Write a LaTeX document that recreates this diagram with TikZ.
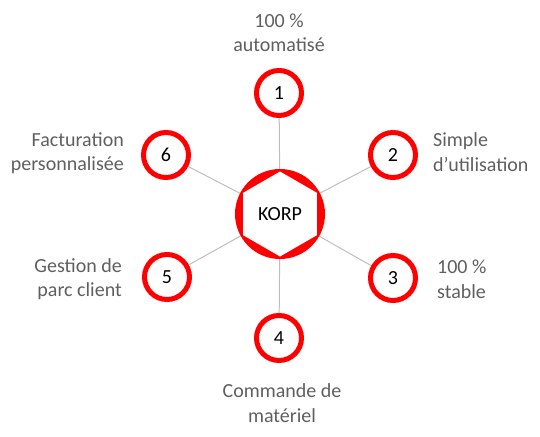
\documentclass[tikz,border=0pt]{standalone}
\usepackage{fontspec}
\setmainfont{Carlito}
\usetikzlibrary{shapes.geometric, backgrounds}
\definecolor{korpred}{RGB}{255,0,0}
\definecolor{labelgray}{RGB}{95,95,95}
\definecolor{spokegray}{RGB}{190,190,190}

\begin{document}
\begin{tikzpicture}[x=1pt, y=-1pt,
  num/.style={circle, draw=korpred, line width=5pt, fill=white, minimum size=45pt, inner sep=0pt, font=\fontsize{20}{22}\selectfont},
  lbl/.style={text=labelgray, inner sep=0pt, font=\fontsize{20}{24.5}\selectfont},
  spoke/.style={draw=spokegray, line width=1pt}]

\useasboundingbox (0,0) rectangle (540,436);

% Hub: red disc with white hexagon
\node[circle, fill=korpred, minimum size=90pt, inner sep=0pt] (korp) at (280,214) {};
\node[regular polygon, regular polygon sides=6, shape border rotate=30, fill=white,
  minimum size=85pt, inner sep=0pt, font=\fontsize{20}{22}\selectfont] (korphex) at (korp) {KORP};

% Numbered circles
\foreach \n/\x/\y in {1/279/93, 2/393/155, 3/393/278, 4/279/338, 5/167/277, 6/166/155} {
  \node[num] (n\n) at (\x,\y) {\n};
}

% Spokes behind everything
\begin{scope}[on background layer]
  \foreach \n in {1,...,6}
    \draw[spoke] (korp.center) -- (n\n.center);
\end{scope}

% Labels
\node[lbl, align=center] (lab1) at (279,33) {100 \%\\automatisé};
\node[lbl, align=left, anchor=west] (lab2) at (433,152) {Simple\\d’utilisation};
\node[lbl, align=left, anchor=west] (lab3) at (437,279) {100 \%\\stable};
\node[lbl, align=center] (lab4) at (282,403) {Commande de\\matériel};
\node[lbl, align=right, anchor=east] (lab5) at (122,279) {Gestion de\\parc client};
\node[lbl, align=right, anchor=east] (lab6) at (124,153) {Facturation\\personnalisée};

\end{tikzpicture}
\end{document}
